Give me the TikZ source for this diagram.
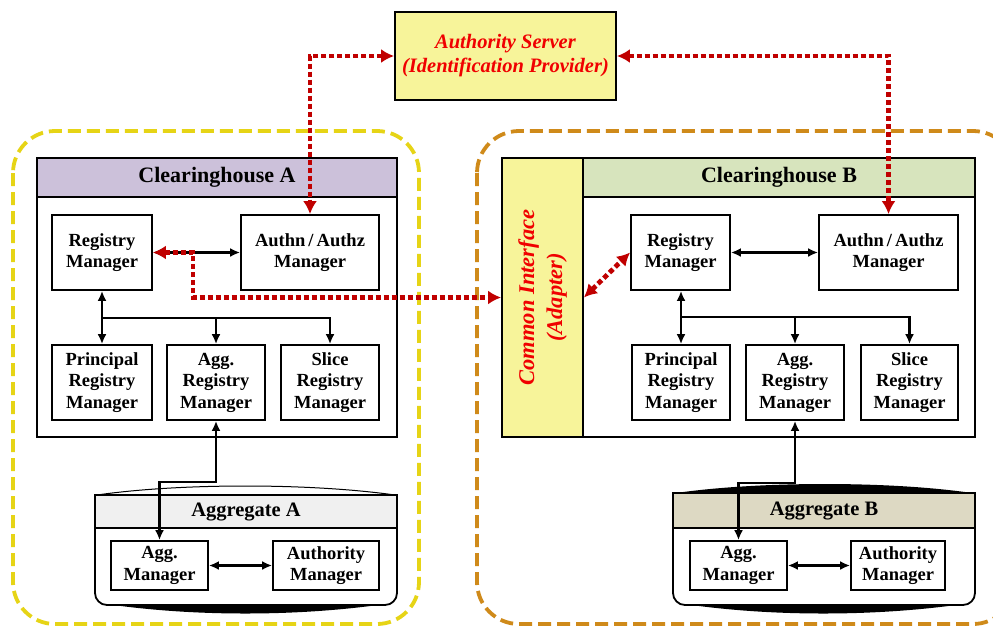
\documentclass[tikz,border=0pt]{standalone}
\usepackage{fontspec}
\setmainfont{Liberation Serif}
\usetikzlibrary{arrows.meta}
\usetikzlibrary{calc}
\usepackage{xcolor}

\definecolor{srvfill}{HTML}{F7F49A}
\definecolor{chAfill}{HTML}{CCC1DA}
\definecolor{chBfill}{HTML}{D7E4BD}
\definecolor{agAfill}{HTML}{F0F0F0}
\definecolor{agBfill}{HTML}{DDD9C3}
\definecolor{dotred}{HTML}{C00000}
\definecolor{txtred}{HTML}{F00000}
\definecolor{dashyel}{HTML}{E6D416}
\definecolor{dashora}{HTML}{CF8A1A}

\begin{document}
\begin{tikzpicture}[x=1pt,y=-1pt,
        mgr/.style={draw, line width=1.8pt, fill=white, align=center, inner sep=0pt,
            font=\bfseries\fontsize{18.5}{21.5}\selectfont},
        head/.style={draw, line width=1.8pt, inner sep=0pt, font=\bfseries\fontsize{22}{24}\selectfont},
        link/.style={line width=2.2pt, {Latex[length=10pt,width=9pt]}-{Latex[length=10pt,width=9pt]}},
        down/.style={line width=2.2pt, -{Latex[length=10pt,width=9pt]}},
        reddot/.style={dotred, line width=4.8pt, dash pattern=on 5pt off 3pt,
            {Latex[length=13pt,width=14pt]}-{Latex[length=13pt,width=14pt]}}]
        \path[use as bounding box, clip] (0,0) rectangle (993,630);

        % domains
        \draw[dashyel, line width=3.8pt, dash pattern=on 13pt off 6pt, rounded corners=42] (13,131) rectangle (419,624);
        \draw[dashora, line width=3.8pt, dash pattern=on 13pt off 6pt, rounded corners=42] (477,131) rectangle (1015,624);

        % authority server
        \node[draw, line width=1.8pt, fill=srvfill, minimum width=221, minimum height=88, align=center,
            text=txtred, font=\bfseries\itshape\fontsize{20.5}{24}\selectfont] (srv) at (505.5,56)
            {Authority Server\\(Identification Provider)};

        % clearinghouse A
        \node[draw, line width=1.8pt, fill=white, minimum width=360, minimum height=279] (chA) at (217,297.5) {};
        \node[head, fill=chAfill, minimum width=360, minimum height=39] (chAhead) at (217,177.5) {Clearinghouse A};

        \node[mgr, minimum width=100, minimum height=75] (regA) at (102,252.5) {Registry\\Manager};
        \node[mgr, minimum width=138, minimum height=75] (authA) at (310,252.5) {Authn\,/\,Authz\\Manager};
        \node[mgr, minimum width=100, minimum height=75] (prinA) at (102,382.5) {Principal\\Registry\\Manager};
        \node[mgr, minimum width=98, minimum height=75] (aggregA) at (216,382.5) {Agg.\\Registry\\Manager};
        \node[mgr, minimum width=98, minimum height=75] (sliceA) at (330,382.5) {Slice\\Registry\\Manager};

        % clearinghouse B
        \node[draw, line width=1.8pt, fill=white, minimum width=473, minimum height=279] (chB) at (738.5,297.5) {};
        \node[draw, line width=1.8pt, fill=srvfill, minimum width=81, minimum height=279, inner sep=0pt] (ci) at (542.5,297.5) {};
        \node[rotate=90, align=center, text=txtred, font=\bfseries\itshape\fontsize{22.5}{28}\selectfont] (citext) at (ci.center) {Common Interface\\(Adapter)};
        \node[head, fill=chBfill, minimum width=392, minimum height=39] (chBhead) at (779,177.5) {Clearinghouse B};

        \node[mgr, minimum width=99, minimum height=75] (regB) at (680.5,252.5) {Registry\\Manager};
        \node[mgr, minimum width=139, minimum height=75] (authB) at (888.5,252.5) {Authn\,/\,Authz\\Manager};
        \node[mgr, minimum width=98, minimum height=75] (prinB) at (681,382.5) {Principal\\Registry\\Manager};
        \node[mgr, minimum width=98, minimum height=75] (aggregB) at (795,382.5) {Agg.\\Registry\\Manager};
        \node[mgr, minimum width=97, minimum height=75] (sliceB) at (909.5,382.5) {Slice\\Registry\\Manager};

        % aggregate A
        \fill (100,603) .. controls (190,617) and (300,617) .. (392,603) -- cycle;
        \draw[line width=1pt] (97,495) .. controls (180,483) and (310,483) .. (395,495);
        \draw[line width=1.8pt, fill=white] (95,495) [rounded corners=12] -- (95,605) -- (397,605) [sharp corners] -- (397,495) -- cycle;
        \node[head, fill=agAfill, minimum width=302, minimum height=33, font=\bfseries\fontsize{20.5}{22}\selectfont] (aggA) at (246,511.5) {Aggregate A};
        \node[mgr, minimum width=97, minimum height=49] (amA) at (159.5,565.5) {Agg.\\Manager};
        \node[mgr, minimum width=106, minimum height=49] (autmA) at (326,565.5) {Authority\\Manager};

        % aggregate B
        \fill (678,603) .. controls (768,617) and (878,617) .. (970,603) -- cycle;
        \fill (676,493) .. controls (760,481) and (890,481) .. (972,493) -- cycle;
        \draw[line width=1.8pt, fill=white] (673,493) [rounded corners=12] -- (673,605) -- (975,605) [sharp corners] -- (975,493) -- cycle;
        \node[head, fill=agBfill, minimum width=302, minimum height=35, font=\bfseries\fontsize{20.5}{22}\selectfont] (aggB) at (824,510.5) {Aggregate B};
        \node[mgr, minimum width=97, minimum height=49] (amB) at (738.5,565.5) {Agg.\\Manager};
        \node[mgr, minimum width=94, minimum height=49] (autmB) at (898,565.5) {Authority\\Manager};

        % black links A
        \coordinate (busA) at (102,318);
        \coordinate (kinkA) at (216,482);
        \draw[link] (regA) -- (authA);
        \draw[link] (regA) -- (prinA);
        \draw[down] (busA) -| (aggregA.north);
        \draw[down] (busA) -| (sliceA.north);
        \draw[link] (aggregA.south) -- (kinkA) -| (amA.north);
        \draw[link] (amA) -- (autmA);

        % black links B
        \coordinate (busB) at (681,317);
        \coordinate (kinkB) at (795,483);
        \draw[link] (regB) -- (authB);
        \draw[link] (regB.south -| busB) -- (prinB.north);
        \draw[down] (busB) -| (aggregB.north);
        \draw[down] (busB) -| (sliceB.north);
        \draw[link] (aggregB.south) -- (kinkB) -| (amB.north);
        \draw[link] (amB) -- (autmB);

        % red links
        \draw[reddot] (srv.west) -| (authA.north);
        \draw[reddot] (srv.east) -| (authB.north);
        \draw[reddot] (regA.east) -- ++(40,0) |- (ci.west);
        \draw[reddot] (ci.east) -- (regB.west);
\end{tikzpicture}
\end{document}
